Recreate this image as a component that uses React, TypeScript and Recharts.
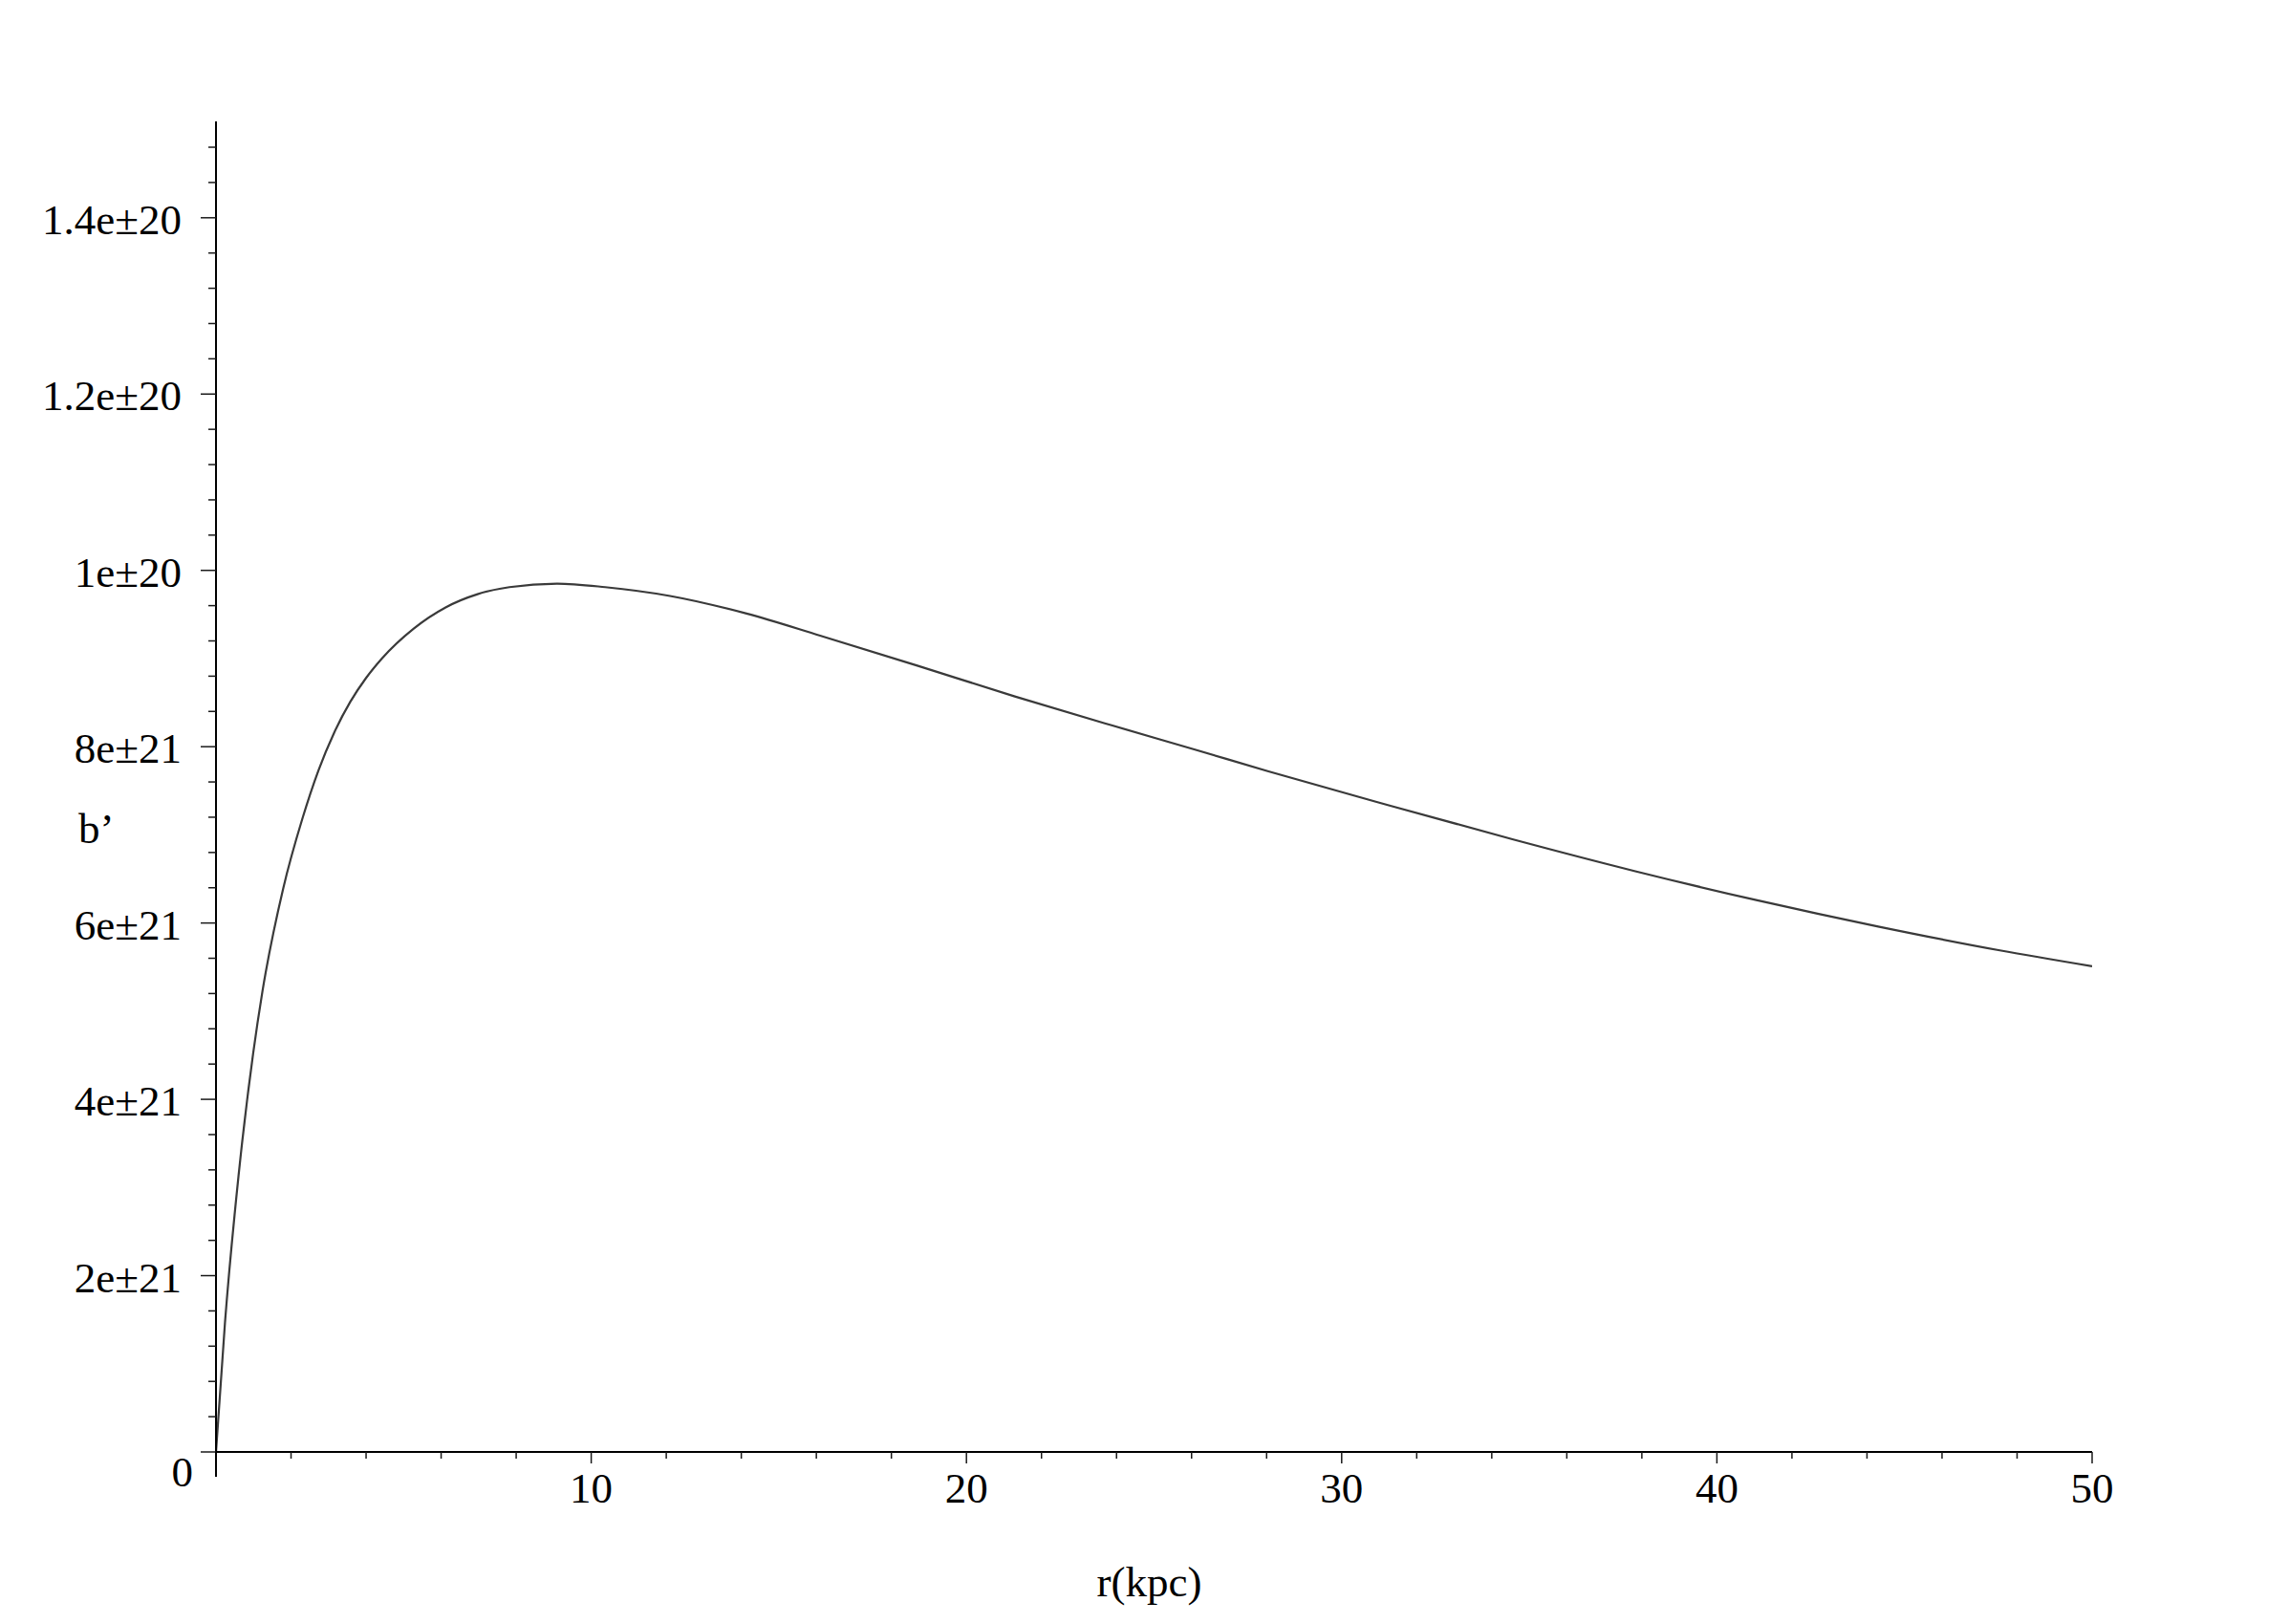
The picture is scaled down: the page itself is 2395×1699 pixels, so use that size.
import { LineChart, Line, XAxis, YAxis, Label } from "recharts";

// r in kpc, b' in units of the major tick step (1 = "1e±20")
const rValues = [
  0, 0.24, 0.6, 0.99, 1.24, 1.79, 2.3, 2.73, 3.15, 3.58, 4.0, 4.42, 5.27, 6.12, 6.97,
  7.82, 9.09, 10.37, 12.1, 14.14, 16.1, 18.69, 21.29, 23.89, 26.07, 28.05, 31.3, 34.55,
  37.8, 41.05, 44.3, 47.54, 50,
];
const bValues = [
  0, 0.147, 0.313, 0.452, 0.523, 0.639, 0.718, 0.773, 0.816, 0.851, 0.878, 0.9, 0.934,
  0.958, 0.973, 0.981, 0.985, 0.981, 0.971, 0.951, 0.926, 0.892, 0.857, 0.824, 0.797,
  0.772, 0.733, 0.695, 0.659, 0.626, 0.596, 0.569, 0.551,
];

const yMajorValues = [0, 0.2, 0.4, 0.6, 0.8, 1.0, 1.2, 1.4];
const yMajorLabels = ["0", "2e±21", "4e±21", "6e±21", "8e±21", "1e±20", "1.2e±20", "1.4e±20"];
const xMajorValues = [10, 20, 30, 40, 50];
const xMajorLabels = ["10", "20", "30", "40", "50"];

const yTicks = Array.from({ length: 38 }, (_, i) => +(i * 0.04).toFixed(2));
const xTicks = Array.from({ length: 26 }, (_, i) => i * 2);

const data = rValues.map((r, i) => ({ r, b: bValues[i] }));

const FONT = '"Liberation Serif", "Times New Roman", serif';
const INK = "#1a1a1a";

function YTick(props: any) {
  const { x, y, payload } = props;
  const v = payload.value;
  const major = Math.round(v / 0.04) % 5 === 0;
  const li = yMajorValues.findIndex((m) => Math.abs(m - v) < 1e-6);
  const isZero = Math.abs(v) < 1e-6;
  return (
    <g>
      <line x1={x - (major ? 16 : 8)} y1={y} x2={x} y2={y} stroke={INK} strokeWidth={1.5} />
      {isZero && <line x1={x} y1={y} x2={x} y2={y + 26} stroke="#000" strokeWidth={2} />}
      {li >= 0 && (
        <text
          x={isZero ? x - 24 : x - 36}
          y={isZero ? y + 36 : y + 17}
          textAnchor="end"
          fontFamily={FONT}
          fontSize={45}
          fill="#000"
        >
          {yMajorLabels[li]}
        </text>
      )}
    </g>
  );
}

function XTick(props: any) {
  const { x, y, payload } = props;
  const v = payload.value;
  if (v === 0) return <g />;
  const li = xMajorValues.indexOf(v);
  return (
    <g>
      <line x1={x} y1={y} x2={x} y2={y + (li >= 0 ? 12 : 7)} stroke={INK} strokeWidth={1.5} />
      {li >= 0 && (
        <text x={x} y={y + 53} textAnchor="middle" fontFamily={FONT} fontSize={45} fill="#000">
          {xMajorLabels[li]}
        </text>
      )}
    </g>
  );
}

export default function App() {
  return (
    <div style={{ width: 2379, height: 1683, background: "#fff" }}>
      <LineChart
        width={2379}
        height={1683}
        data={data}
        margin={{ top: 119, right: 198, left: 0, bottom: 72 }}
      >
        <XAxis
          dataKey="r"
          type="number"
          domain={[0, 50]}
          ticks={xTicks}
          interval={0}
          height={100}
          tickSize={0}
          tickMargin={0}
          tickLine={false}
          axisLine={{ stroke: "#000", strokeWidth: 2 }}
          tick={<XTick />}
          allowDataOverflow
        >
          <Label
            content={(p: any) => (
              <text
                x={p.viewBox.x + p.viewBox.width / 2 - 5}
                y={p.viewBox.y + 151}
                textAnchor="middle"
                fontFamily={FONT}
                fontSize={45}
                fill="#000"
              >
                r(kpc)
              </text>
            )}
          />
        </XAxis>
        <YAxis
          type="number"
          domain={[0, 1.5093]}
          ticks={yTicks}
          interval={0}
          width={218}
          tickSize={0}
          tickMargin={0}
          tickLine={false}
          axisLine={{ stroke: "#000", strokeWidth: 2 }}
          tick={<YTick />}
          allowDataOverflow
        >
          <Label
            content={(p: any) => (
              <text
                x={p.viewBox.x + 74}
                y={874}
                textAnchor="start"
                fontFamily={FONT}
                fontSize={45}
                fill="#000"
              >
                b’
              </text>
            )}
          />
        </YAxis>
        <Line
          type="monotone"
          dataKey="b"
          stroke="#3a3a3a"
          strokeWidth={2.2}
          dot={false}
          isAnimationActive={false}
        />
      </LineChart>
    </div>
  );
}
